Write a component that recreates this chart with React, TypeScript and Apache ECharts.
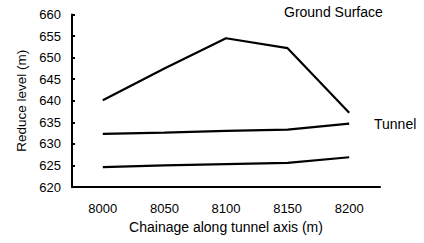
import React, { useEffect, useRef } from "react";
import * as echarts from "echarts";

const categories = ["8000", "8050", "8100", "8150", "8200"];
const groundSurface = [640.1, 647.5, 654.5, 652.2, 637.2];
const tunnelTop = [632.3, 632.6, 633.0, 633.3, 634.7];
const tunnelBottom = [624.6, 625.0, 625.3, 625.6, 626.9];

const FONT = "Liberation Sans, Arial, sans-serif";

export default function App() {
  const ref = useRef<HTMLDivElement>(null);
  useEffect(() => {
    if (!ref.current) return;
    const chart = echarts.init(ref.current, null, { renderer: "svg" });
    const lineSeries = (name: string, data: number[]) => ({
      name,
      type: "line",
      data,
      symbol: "none",
      lineStyle: { color: "#000", width: 2.2 },
      itemStyle: { color: "#000" },
    });
    chart.setOption({
      animation: false,
      backgroundColor: "#fff",
      grid: { left: 72, right: 44, top: 14.5, bottom: 56, containLabel: false },
      xAxis: {
        type: "category",
        data: categories,
        boundaryGap: true,
        name: "Chainage along tunnel axis (m)",
        nameLocation: "middle",
        nameGap: 32,
        nameTextStyle: { color: "#000", fontSize: 14, fontFamily: FONT },
        axisLine: { lineStyle: { color: "#000", width: 2 } },
        axisTick: { inside: true, length: 4, lineStyle: { color: "#000", width: 2 } },
        axisLabel: { color: "#000", fontSize: 13, fontFamily: FONT, margin: 15 },
        splitLine: { show: false },
      },
      yAxis: {
        type: "value",
        min: 620,
        max: 660,
        interval: 5,
        name: "Reduce level (m)",
        nameLocation: "middle",
        nameGap: 41,
        nameTextStyle: { color: "#000", fontSize: 13.5, fontFamily: FONT },
        axisLine: { show: true, lineStyle: { color: "#000", width: 2 } },
        axisTick: { show: true, inside: true, length: 3, lineStyle: { color: "#000", width: 2 } },
        axisLabel: { color: "#000", fontSize: 13, fontFamily: FONT, margin: 11 },
        splitLine: { show: false },
      },
      graphic: [
        {
          type: "text",
          left: 284,
          top: 5,
          style: { text: "Ground Surface", fill: "#000", fontSize: 14, fontFamily: FONT },
        },
        {
          type: "text",
          left: 374,
          top: 117,
          style: { text: "Tunnel", fill: "#000", fontSize: 14, fontFamily: FONT },
        },
      ],
      series: [
        lineSeries("Ground Surface", groundSurface),
        lineSeries("Tunnel top", tunnelTop),
        lineSeries("Tunnel bottom", tunnelBottom),
      ],
    });
    return () => chart.dispose();
  }, []);
  return <div ref={ref} style={{ width: 424, height: 243, position: "absolute", left: 0, top: 0 }} />;
}
